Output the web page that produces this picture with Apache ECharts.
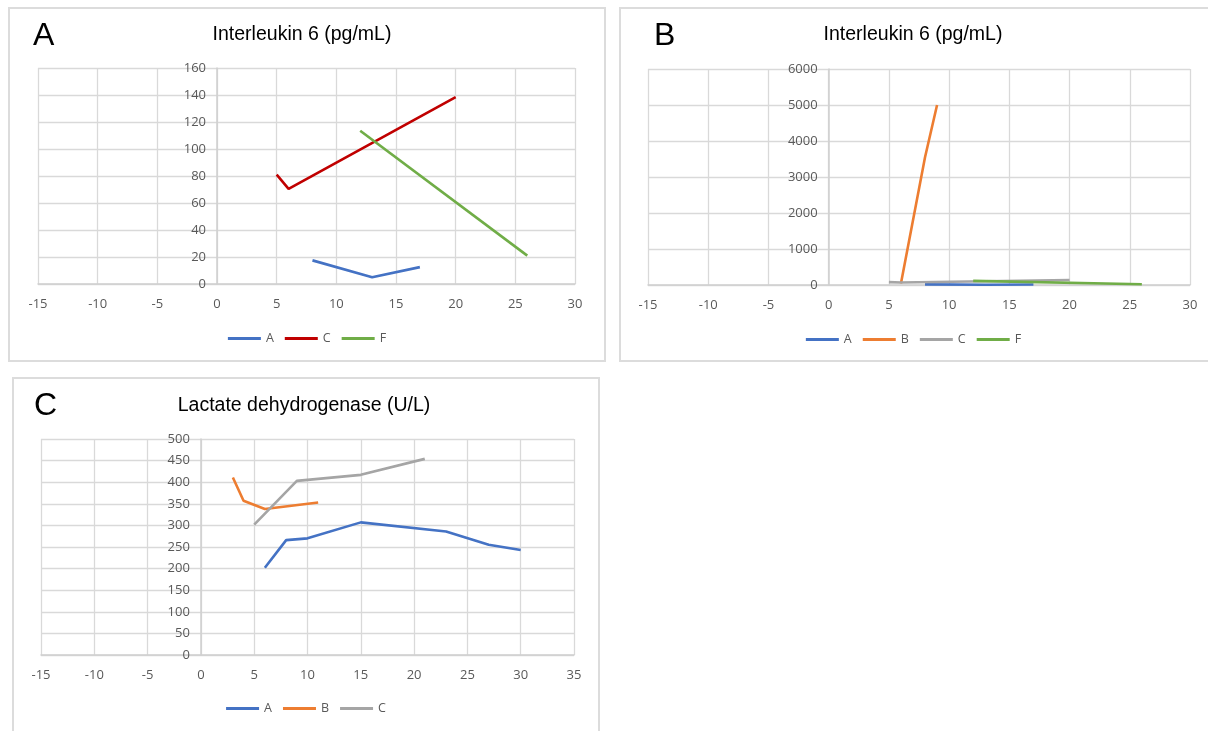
<!DOCTYPE html>
<html>
<head>
<meta charset="utf-8">
<script src="https://cdn.jsdelivr.net/npm/echarts@6/dist/echarts.min.js"></script>
<style>
  html, body { margin:0; padding:0; background:#fff; width:1208px; height:731px; overflow:hidden; position:relative; }
  .frame { position:absolute; box-sizing:border-box; border:2px solid #dcdcdc; }
  .chart { position:absolute; }
</style>
</head>
<body>
<div class="frame" style="left:8px;top:7px;width:598px;height:355px;"></div>
<div class="frame" style="left:619px;top:7px;width:600px;height:355px;"></div>
<div class="frame" style="left:12px;top:377px;width:588px;height:370px;"></div>
<div id="cA" class="chart" style="left:8px;top:7px;width:598px;height:355px;"></div>
<div id="cB" class="chart" style="left:619px;top:7px;width:589px;height:355px;"></div>
<div id="cC" class="chart" style="left:12px;top:377px;width:588px;height:354px;"></div>
<script>
// ---------- Data ----------
// Interleukin 6 (pg/mL)
const il6_A_days = [8, 13, 17];
const il6_A_vals = [17.5, 5, 12.5];
const il6_B_days = [6, 8, 9];
const il6_B_vals = [40, 3550, 5000];
const il6_C_days = [5, 6, 20];
const il6_C_vals = [81, 70.5, 138.5];
const il6_F_days = [12, 26];
const il6_F_vals = [113.5, 21];
// Lactate dehydrogenase (U/L)
const ldh_A_days = [6, 8, 10, 15, 23, 27, 30];
const ldh_A_vals = [202, 266, 270, 307, 286, 255, 243];
const ldh_B_days = [3, 4, 6, 11];
const ldh_B_vals = [411, 357, 338, 353];
const ldh_C_days = [5, 9, 15, 21];
const ldh_C_vals = [302, 403, 417, 454];

const xTicksIL6 = { min: -15, max: 30, interval: 5 };
const xTicksLDH = { min: -15, max: 35, interval: 5 };
const yTicksA = { min: 0, max: 160, interval: 20 };
const yTicksB = { min: 0, max: 6000, interval: 1000 };
const yTicksC = { min: 0, max: 500, interval: 50 };

// ---------- Styling ----------
const COL = { blue:'#4472C4', orange:'#ED7D31', gray:'#A5A5A5', green:'#70AD47', red:'#C00000' };
const tickFont = { color:'#595959', fontFamily:'Open Sans', fontSize:13 };
const gridLine = { lineStyle:{ color:'#d9d9d9', width:1.3 } };

function pairs(days, vals){ return days.map((d,i)=>[d, vals[i]]); }
function line(name, days, vals, color){
  return { name, type:'line', data:pairs(days, vals), showSymbol:false, symbol:'none',
           lineStyle:{ color, width:2.6 }, itemStyle:{ color }, z:3 };
}
function makeOption(cfg){
  const zeroOffset = (0 - cfg.x.min) / (cfg.x.max - cfg.x.min) * cfg.grid.width;
  return {
    animation:false,
    graphic:[
      { type:'text', left:cfg.letterX, top:cfg.letterY,
        style:{ text:cfg.letter, fontFamily:'Liberation Sans', fontSize:32, fill:'#000' } },
      { type:'text', x:cfg.titleX, y:cfg.titleY,
        style:{ text:cfg.title, fontFamily:'Liberation Sans', fontSize:19.5, fill:'#000',
                textAlign:'center', textVerticalAlign:'middle' } }
    ],
    legend:{ left:'center', top:cfg.legendY, icon:'rect', itemWidth:33, itemHeight:3, itemGap:11,
             textStyle:{ color:'#595959', fontFamily:'Open Sans', fontSize:12.5 },
             data:cfg.series.map(s=>s.name) },
    grid:Object.assign({ outerBoundsMode:'none', containLabel:false }, cfg.grid),
    xAxis:{ type:'value', min:cfg.x.min, max:cfg.x.max, interval:cfg.x.interval,
            axisLine:{ show:true, lineStyle:{ color:'#cfcfcf', width:1.5 } },
            axisTick:{ show:false },
            axisLabel:Object.assign({ margin:14, formatter:v=>String(v) }, tickFont),
            splitLine:Object.assign({ show:true }, gridLine) },
    yAxis:{ type:'value', min:cfg.y.min, max:cfg.y.max, interval:cfg.y.interval,
            axisLine:{ show:true, onZero:true, lineStyle:{ color:'#cfcfcf', width:1.5 } },
            axisTick:{ show:false },
            axisLabel:Object.assign({ margin:11 - zeroOffset, formatter:v=>String(v) }, tickFont),
            splitLine:Object.assign({ show:true }, gridLine) },
    series:cfg.series
  };
}

echarts.init(document.getElementById('cA'), null, {renderer:'canvas'}).setOption(makeOption({
  letter:'A', letterX:25, letterY:13, title:'Interleukin 6 (pg/mL)', titleX:294, titleY:28,
  legendY:320,
  grid:{ left:30, top:61, width:537, height:216 },
  x:xTicksIL6, y:yTicksA,
  series:[
    line('A', il6_A_days, il6_A_vals, COL.blue),
    line('C', il6_C_days, il6_C_vals, COL.red),
    line('F', il6_F_days, il6_F_vals, COL.green)
  ]
}));

echarts.init(document.getElementById('cB'), null, {renderer:'canvas'}).setOption(makeOption({
  letter:'B', letterX:35, letterY:13, title:'Interleukin 6 (pg/mL)', titleX:294, titleY:28,
  legendY:321,
  grid:{ left:29, top:62, width:542, height:216 },
  x:xTicksIL6, y:yTicksB,
  series:[
    line('A', il6_A_days, il6_A_vals, COL.blue),
    line('B', il6_B_days, il6_B_vals, COL.orange),
    line('C', il6_C_days, il6_C_vals, COL.gray),
    line('F', il6_F_days, il6_F_vals, COL.green)
  ]
}));

echarts.init(document.getElementById('cC'), null, {renderer:'canvas'}).setOption(makeOption({
  letter:'C', letterX:22, letterY:13, title:'Lactate dehydrogenase (U/L)', titleX:292, titleY:29,
  legendY:320,
  grid:{ left:29, top:62, width:533, height:216 },
  x:xTicksLDH, y:yTicksC,
  series:[
    line('A', ldh_A_days, ldh_A_vals, COL.blue),
    line('B', ldh_B_days, ldh_B_vals, COL.orange),
    line('C', ldh_C_days, ldh_C_vals, COL.gray)
  ]
}));
</script>
</body>
</html>
